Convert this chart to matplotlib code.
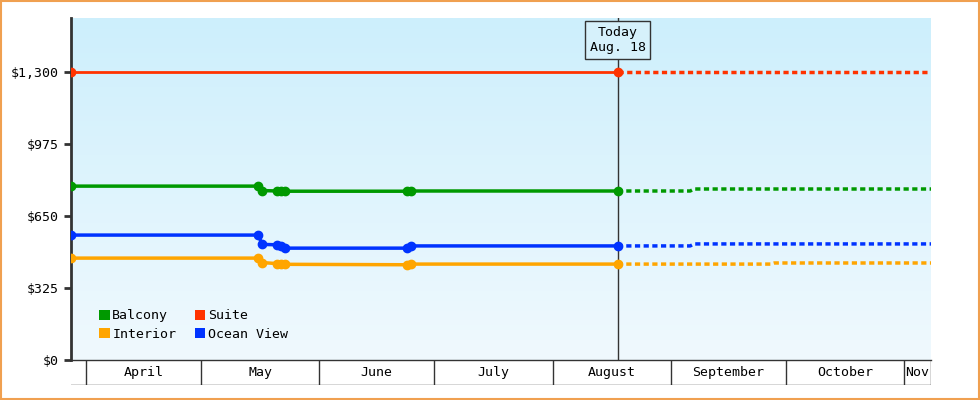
import matplotlib
matplotlib.use("Agg")
import matplotlib.pyplot as plt
import matplotlib.dates as mdates
import numpy as np
from datetime import datetime as dt
from matplotlib.colors import LinearSegmentedColormap

plt.rcParams['font.family'] = ['DejaVu Sans Mono']

def d(s): return mdates.date2num(dt.strptime("2024-" + s, "%Y-%m-%d"))

hist_dates = ["03-28", "05-16", "05-17", "05-21", "05-22", "05-23", "06-24", "06-25", "08-18"]
balcony = [785, 785, 765, 763, 763, 762, 762, 763, 763]
ocean = [564, 564, 522, 520, 515, 505, 505, 515, 515]
interior = [460, 460, 440, 435, 433, 432, 430, 433, 433]
suite_dates = ["03-28", "08-18"]
suite = [1300, 1300]

fut_balcony_d = ["08-18", "09-06", "09-07", "11-08"]; fut_balcony = [763, 763, 772, 772]
fut_ocean_d = ["08-18", "09-06", "09-07", "11-08"]; fut_ocean = [515, 515, 524, 524]
fut_interior_d = ["08-18", "09-27", "09-28", "11-08"]; fut_interior = [433, 433, 438, 438]
fut_suite_d = ["08-18", "11-08"]; fut_suite = [1300, 1300]

months = ["April", "May", "June", "July", "August", "September", "October", "Nov"]
month_starts = ["04-01", "05-01", "06-01", "07-01", "08-01", "09-01", "10-01", "11-01", "11-08"]
yticks = [0, 325, 650, 975, 1300]
ylabels = ["$0", "$325", "$650", "$975", "$1,300"]

cols = {"Balcony": "#009900", "Suite": "#ff3300", "Interior": "#ffa500", "Ocean View": "#0033ff"}

fig = plt.figure(figsize=(9.8, 4), dpi=100)
fig.patch.set_facecolor("white")
fig.patches.append(plt.Rectangle((0.001, 0.002), 0.998, 0.996, transform=fig.transFigure,
                                 fill=False, edgecolor="#f0a050", lw=1.5))
ax = fig.add_axes([71/980, 40/400, 860/980, 342/400])
x0, x1 = d("03-28"), d("11-08")
ax.set_xlim(x0, x1); ax.set_ylim(0, 1544)
grad = np.linspace(0, 1, 256).reshape(-1, 1)
cm = LinearSegmentedColormap.from_list("g", ["#f0f9fe", "#cdeffc"])
ax.imshow(grad, extent=[x0, x1, 0, 1544], aspect="auto", origin="lower", cmap=cm, zorder=0)

for name, vals in [("Balcony", balcony), ("Ocean View", ocean), ("Interior", interior)]:
    ax.plot([d(s) for s in hist_dates], vals, color=cols[name], lw=2.5, marker="o", ms=6, zorder=3)
ax.plot([d(s) for s in suite_dates], suite, color=cols["Suite"], lw=2, marker="o", ms=6, zorder=3)
for name, ds, vals in [("Balcony", fut_balcony_d, fut_balcony), ("Ocean View", fut_ocean_d, fut_ocean),
                       ("Interior", fut_interior_d, fut_interior), ("Suite", fut_suite_d, fut_suite)]:
    ax.plot([d(s) for s in ds], vals, color=cols[name], lw=2.5, ls=(0, (1.5, 1.0)), zorder=3)

today = d("08-18")
ax.axvline(today, color="#333333", lw=1, zorder=2)
ax.text(today, 1445, "Today\nAug. 18", ha="center", va="center", fontsize=9.5, zorder=5,
        bbox=dict(boxstyle="square,pad=0.35", fc="#d6f1fb", ec="#333333", lw=1))

ax.set_yticks(yticks); ax.set_yticklabels(ylabels, fontsize=9.5)
ax.set_xticks([])
for s in ["top", "right"]: ax.spines[s].set_visible(False)
ax.spines["left"].set_linewidth(2); ax.spines["bottom"].set_linewidth(1)
ax.spines["left"].set_color("#333333"); ax.spines["bottom"].set_color("#333333")
ax.tick_params(axis="y", length=5, width=2, color="#333333")

handles = [plt.Rectangle((0, 0), 1, 1, fc=cols[n]) for n in ["Balcony", "Interior", "Suite", "Ocean View"]]
ax.legend(handles, ["Balcony", "Interior", "Suite", "Ocean View"], ncol=2, loc="lower left",
          frameon=False, fontsize=9.5, handlelength=0.8, handleheight=0.8, handletextpad=0.2,
          columnspacing=1.4, labelspacing=0.4, borderpad=0.2, bbox_to_anchor=(0.022, 0.03))

bx = fig.add_axes([71/980, 15/400, 860/980, 25/400])
bx.set_xlim(x0, x1); bx.set_ylim(0, 1); bx.axis("off")
bx.plot([x0, x1], [0.02, 0.02], color="#333333", lw=1)
ms = [d(s) for s in month_starts]
for i, m in enumerate(months):
    bx.text((ms[i] + ms[i+1]) / 2, 0.5, m, ha="center", va="center", fontsize=9.5)
for v in ms[:-1]:
    bx.plot([v, v], [0, 1], color="#333333", lw=1)
bx.plot([ms[-1]-0.1, ms[-1]-0.1], [0, 1], color="#333333", lw=1)

fig.savefig("out.png", dpi=100)
